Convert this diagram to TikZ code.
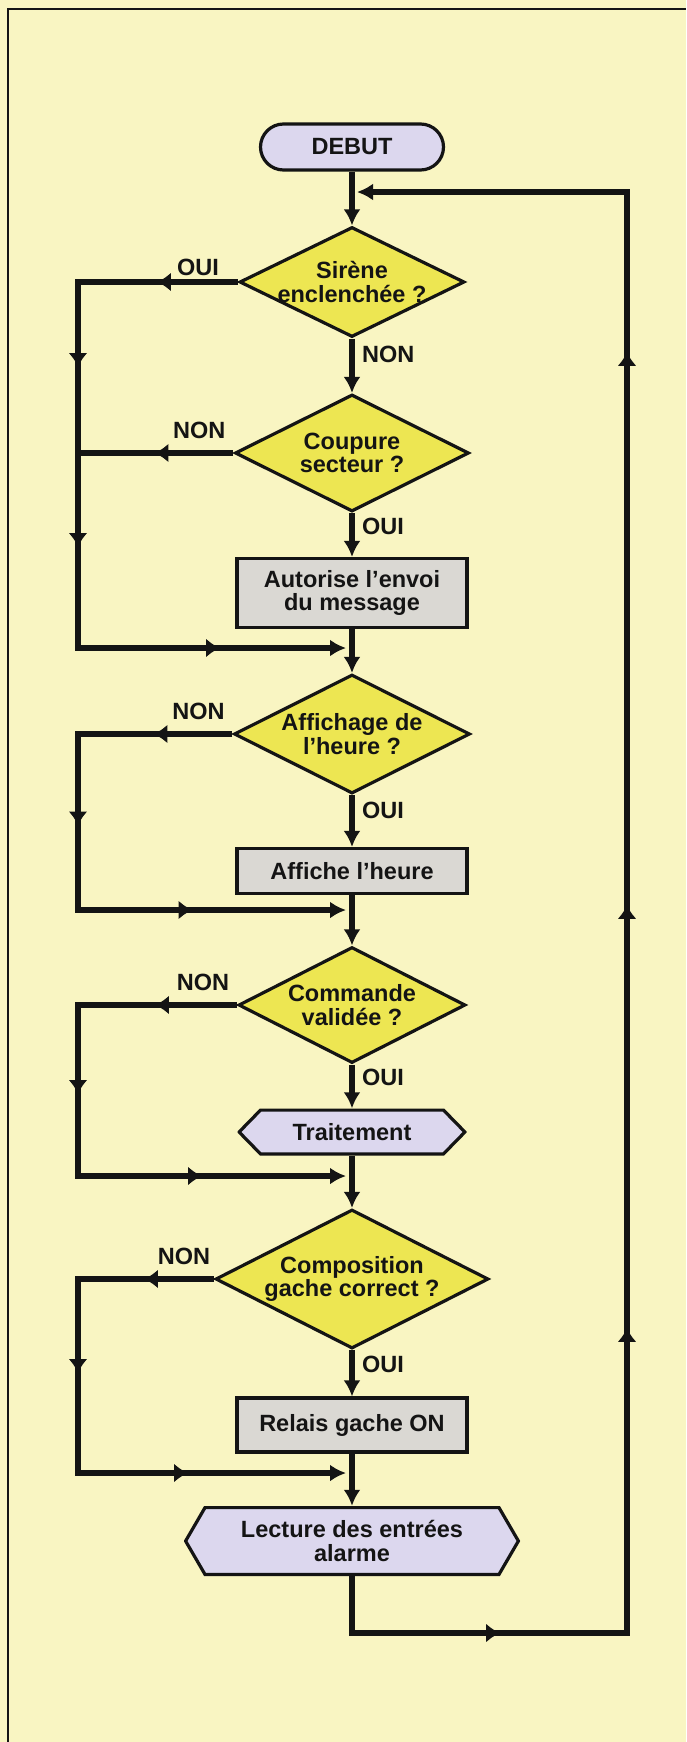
\documentclass[tikz,border=0pt]{standalone}
\usepackage{fontspec}
\setmainfont{Liberation Sans}
\usepackage{tikz}
\usetikzlibrary{arrows.meta,positioning,shapes.geometric,decorations.markings}
\definecolor{paper}{HTML}{F9F5C2}
\definecolor{ink}{HTML}{141414}
\definecolor{dyellow}{HTML}{EDE652}
\definecolor{lilac}{HTML}{DCD7EE}
\definecolor{pgray}{HTML}{DAD8D3}

\begin{document}
\begin{tikzpicture}[x=1pt,y=-1pt,>={Latex[length=16pt,width=17pt]},
  every node/.style={font=\fontsize{23.5}{23.5}\selectfont\bfseries,text=ink},
  nodeline/.style={draw=ink,line width=3.2pt},
  terminal/.style={nodeline,fill=lilac,rectangle,rounded corners=23pt,minimum width=183pt,minimum height=46pt},
  decision/.style={nodeline,fill=dyellow,diamond,aspect=2,inner xsep=-12pt,inner ysep=-8pt,align=center},
  process/.style={nodeline,fill=pgray,rectangle,minimum width=230pt,align=center},
  prep/.style={rectangle,inner sep=0pt,align=center,path picture={
    \draw[nodeline,fill=lilac] ([xshift=1.6pt]path picture bounding box.west)
      -- ([xshift=#1,yshift=-1.6pt]path picture bounding box.north west)
      -- ([xshift=-#1,yshift=-1.6pt]path picture bounding box.north east)
      -- ([xshift=-1.6pt]path picture bounding box.east)
      -- ([xshift=-#1,yshift=1.6pt]path picture bounding box.south east)
      -- ([xshift=#1,yshift=1.6pt]path picture bounding box.south west) -- cycle;}},
  flow/.style={draw=ink,line width=5.5pt},
  yes/.style={right,pos=.3,xshift=4pt},
  no/.style={above,yshift=8pt},
  midarr/.style={postaction={decorate,decoration={markings,mark=at position #1 with {\arrow{Latex[length=14pt,width=19pt]}}}}}]
\useasboundingbox (0,0) rectangle (686,1742);
\fill[paper] (0,0) rectangle (686,1742);
\draw[ink,line width=2pt] (8,1742) -- (8,9) -- (686,9);

\node[terminal] (debut) at (352,147) {DEBUT};
\node[decision,minimum width=225pt,minimum height=110pt] (sirene) at (352,282) {Sirène\\enclenchée ?};
\node[decision,minimum width=234pt,minimum height=117pt] (coupure) at (352,453) {Coupure\\secteur ?};
\node[process,minimum height=69pt] (envoi) at (352,593) {Autorise l’envoi\\du message};
\node[decision,minimum width=236pt,minimum height=119pt] (affichage) at (352,734) {Affichage de\\l’heure ?};
\node[process,minimum height=45pt] (heure) at (352,871) {Affiche l’heure};
\node[decision,minimum width=227pt,minimum height=116pt] (commande) at (352,1005) {Commande\\validée ?};
\node[prep=23pt,minimum width=229pt,minimum height=47pt] (traitement) at (352,1132) {Traitement};
\node[decision,minimum width=273pt,minimum height=139pt] (compo) at (352,1279) {Composition\\gache correct ?};
\node[process,minimum height=54pt] (relais) at (352,1425) {Relais gache ON};
\node[prep=21pt,minimum width=336pt,minimum height=70pt] (lecture) at (352,1541) {Lecture des entrées\\alarme};

\coordinate (k2) at (78,453);
\coordinate (l1) at (78,648);   \coordinate (m1) at (346,648);
\coordinate (l2) at (78,910);   \coordinate (m2) at (346,910);
\coordinate (l3) at (78,1176);  \coordinate (m3) at (346,1176);
\coordinate (l4) at (78,1473);  \coordinate (m4) at (346,1473);
\coordinate (r1) at (627,1633); \coordinate (r2) at (627,192);
\coordinate (e0) at (357,192);

% main line
\draw[flow,->] (debut) -- (sirene);
\draw[flow,->] (sirene) -- node[yes]{NON} (coupure);
\draw[flow,->] (coupure) -- node[yes]{OUI} (envoi);
\draw[flow,->] (envoi) -- (affichage);
\draw[flow,->] (affichage) -- node[yes]{OUI} (heure);
\draw[flow,->] (heure) -- (commande);
\draw[flow,->] (commande) -- node[yes]{OUI} (traitement);
\draw[flow,->] (traitement) -- (compo);
\draw[flow,->] (compo) -- node[yes]{OUI} (relais);
\draw[flow,->] (relais) -- (lecture);

% by-passes on the left
\draw[flow,->,midarr=81pt,midarr=245pt,midarr=425pt,midarr=668pt] (sirene.west) -| node[above,pos=.125]{OUI} (l1) -- (m1);
\draw[flow,midarr=79pt] (coupure.west) -- node[no,pos=.22]{NON} (k2);
\draw[flow,->,midarr=79pt,midarr=246pt,midarr=445pt] (affichage.west) -| node[no,pos=.11]{NON} (l2) -- (m2);
\draw[flow,->,midarr=82pt,midarr=248pt,midarr=454pt] (commande.west) -| node[no,pos=.107]{NON} (l3) -- (m3);
\draw[flow,->,midarr=70pt,midarr=230pt,midarr=440pt] (compo.west) -| node[no,pos=.11]{NON} (l4) -- (m4);

% loop back
\draw[flow,->,midarr=205pt,midarr=637pt,midarr=1060pt,midarr=1613pt] (lecture) |- (r1) -- (r2) -- (e0);
\end{tikzpicture}
\end{document}
